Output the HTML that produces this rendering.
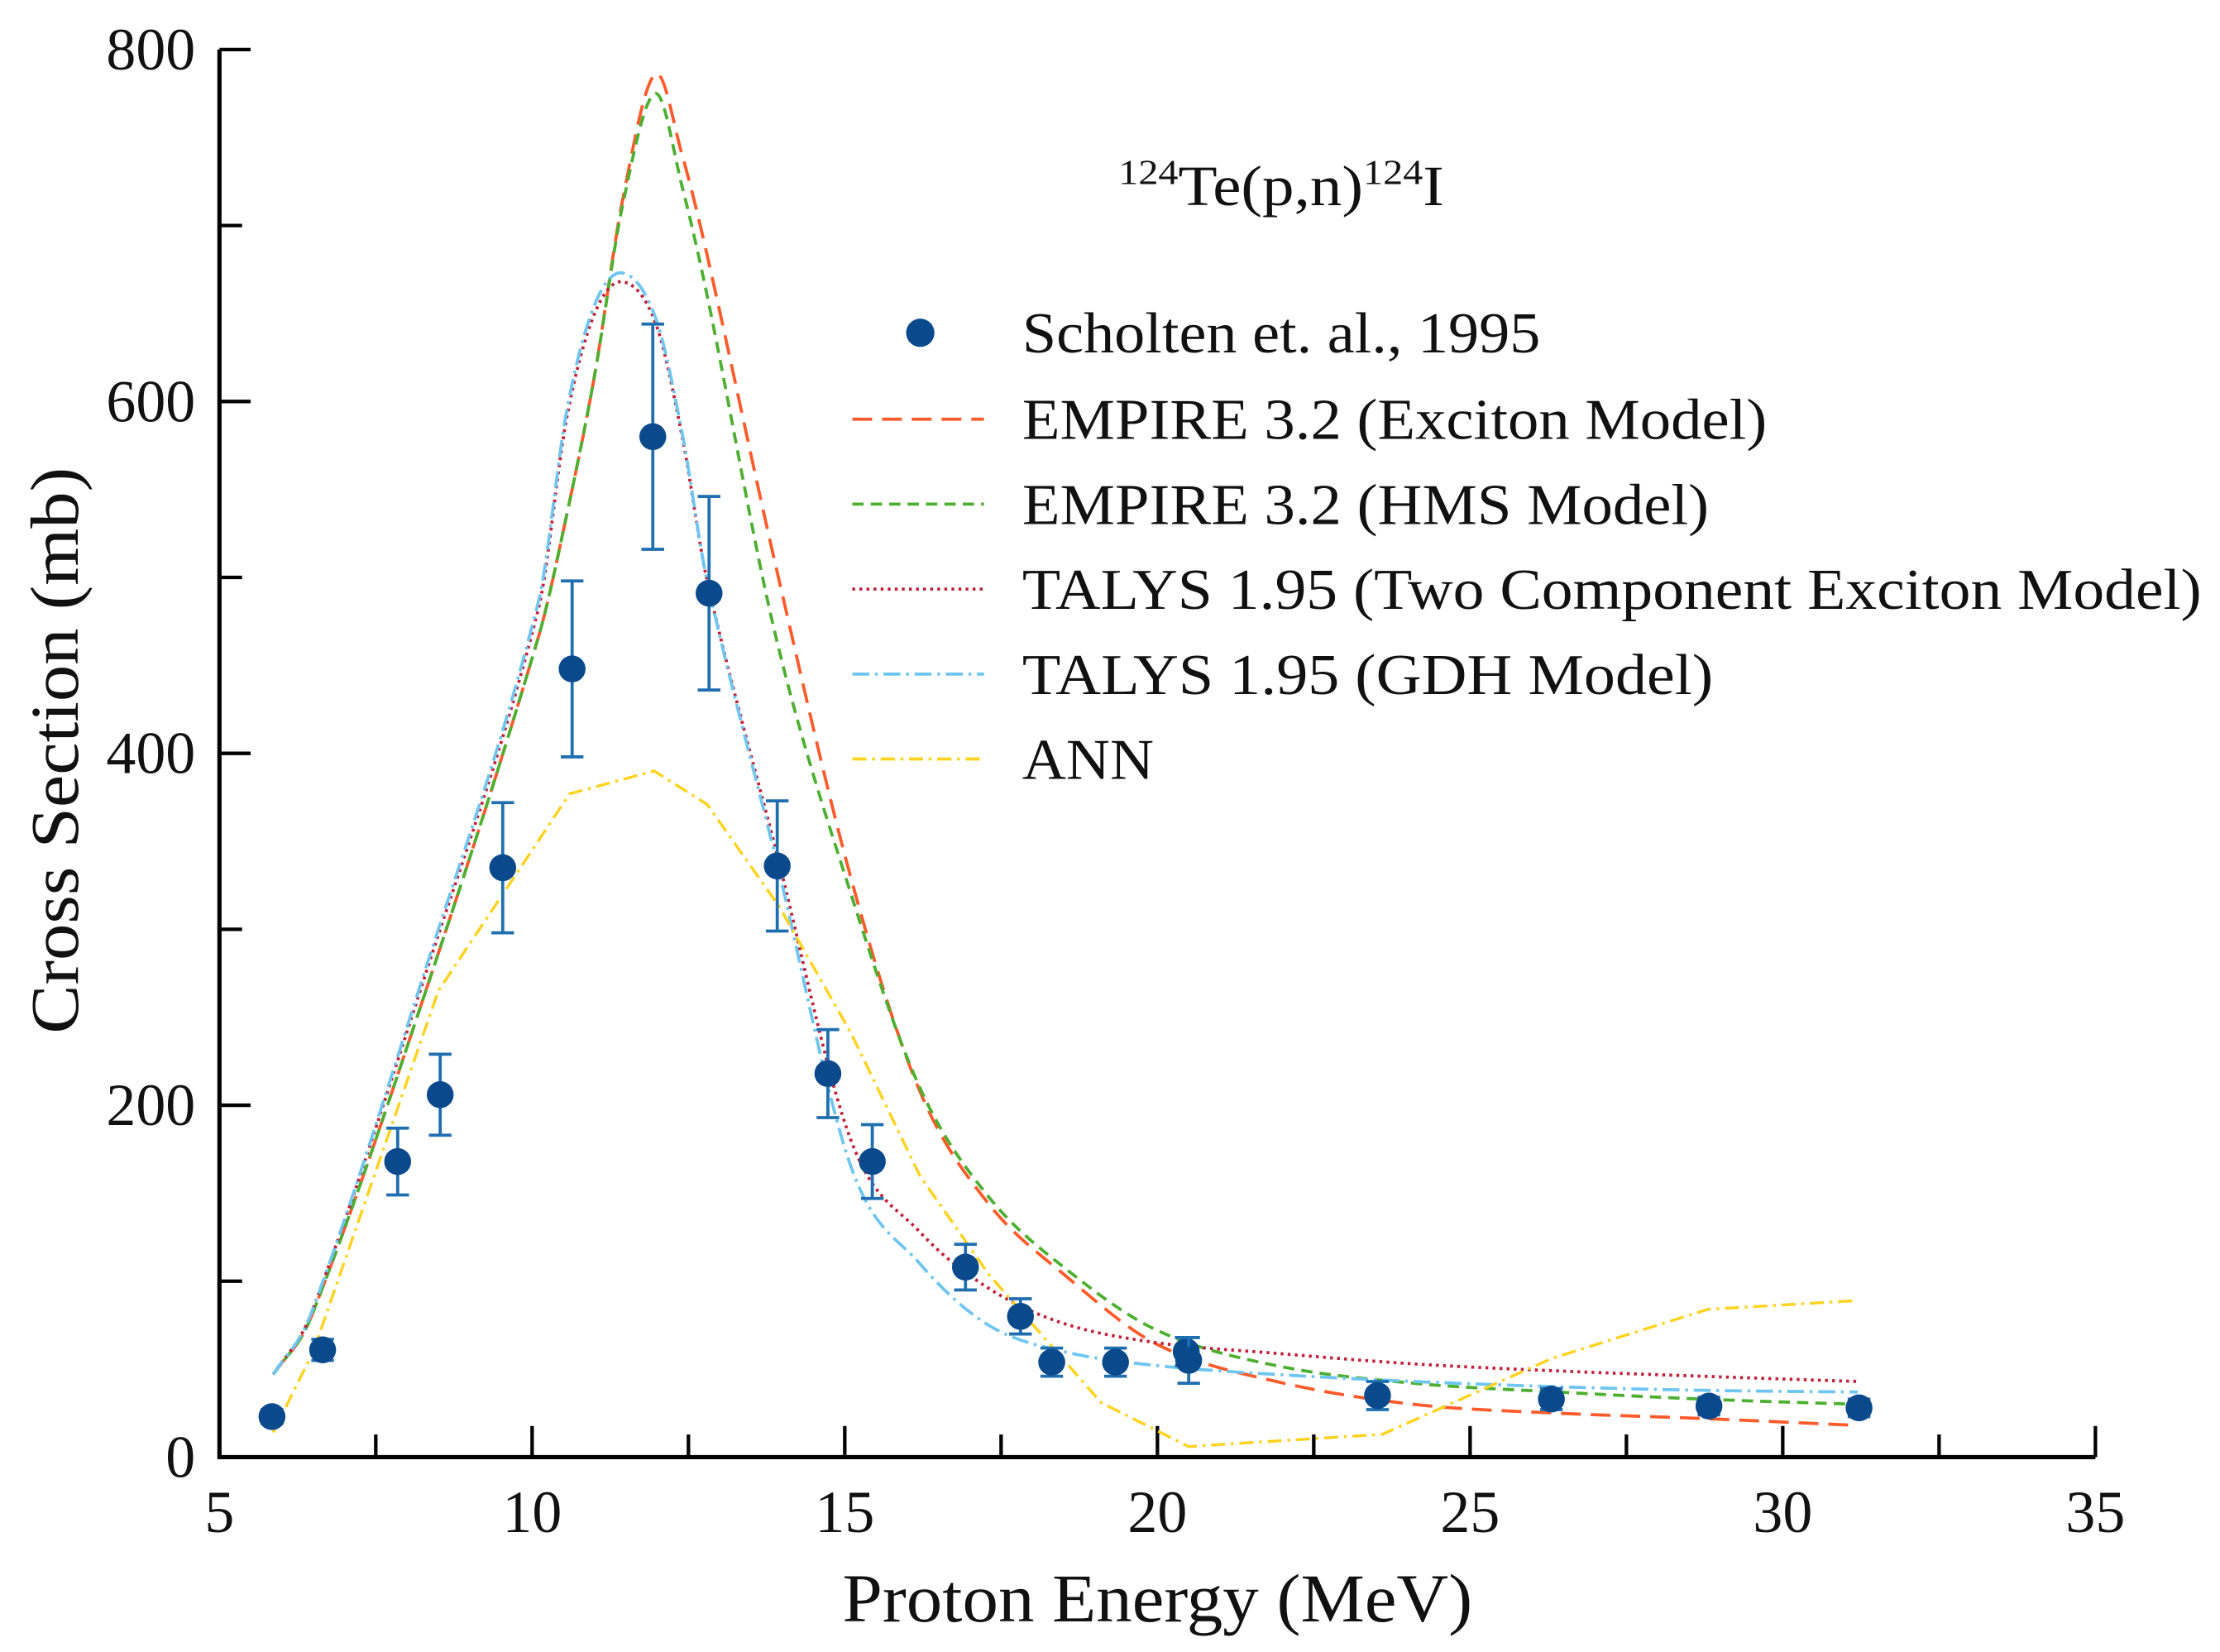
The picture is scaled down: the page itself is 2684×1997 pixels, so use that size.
<!DOCTYPE html>
<html><head><meta charset="utf-8"><style>
html,body{margin:0;padding:0;background:#fff;}
svg{display:block;}
text{font-family:"Liberation Serif",serif;fill:#111;}
</style></head><body>
<svg id="chart" width="2684" height="1997" viewBox="0 0 1568 1166.6" preserveAspectRatio="none" xmlns="http://www.w3.org/2000/svg">
<g id="axes"></g>
<g id="series"></g>
<g id="points"></g>
<text x="790" y="145" font-size="40" textLength="230" lengthAdjust="spacingAndGlyphs">
<tspan font-size="25" dy="-15">124</tspan><tspan dy="15">Te(p,n)</tspan><tspan font-size="25" dy="-15">124</tspan><tspan dy="15">I</tspan></text>
<text x="595" y="1145" font-size="48" textLength="445" lengthAdjust="spacingAndGlyphs">Proton Energy (MeV)</text>
<text transform="translate(55,730) rotate(-90)" font-size="48" textLength="400" lengthAdjust="spacingAndGlyphs">Cross Section (mb)</text>
<g id="legend"></g>
</svg>
<script>
const xTicks=[5,10,15,20,25,30,35];
const yTicks=[0,200,400,600,800];
const expE=[5.84,6.65,7.85,8.53,9.53,10.64,11.93,12.83,13.92,14.73,15.44,16.93,17.81,18.31,19.33,20.46,20.5,23.52,26.30,28.82,31.22];
const expXS=[23,61,168,206,335,448,580,491,336,218,168,108,80,54,54,60,55,35,33,29,28];
const expErr=[4,6,19,23,37,50,64,55,37,25,21,13,10,8,8,8,13,8,6,5,5];
const curveE=[5.86,6.47,8.3,10.1,10.55,11.0,11.45,11.97,12.4,12.8,13.9,15.1,16.2,17.3,18.5,20,21.9,24.1,26.4,28.7,31.2];
const empireExciton=[47,80,265,466,535,615,715,786,740,683,506,329,208,144,104,64,43,30,25,22,18];
const empireHMS=[47,80,265,466,535,615,712,775,722,660,466,320,210,148,108,72,52,42,37,33,30];
const talysTCE=[47,82,275,482,590,650,668,645,580,498,345,180,128,96,76,65,59,53,49,46,43];
const talysGDH=[47,82,278,486,594,655,673,648,582,498,340,165,110,75,60,52,47,43,40,38,37];
const annE=[5.86,6.5,8.5,10.6,11.95,12.8,13.95,15.1,16.2,17.3,19.1,20.5,23.6,26.3,28.8,31.2];
const annXS=[14,60,265,377,390,371,313,241,160,104,31,6,13,56,84,89];

const NS="http://www.w3.org/2000/svg";
const X0=155,X1=1480,Y0=1029,Y1=35;
function sx(v){return X0+(v-5)*(X1-X0)/30;}
function sy(v){return Y0-v*(Y0-Y1)/800;}
function mk(tag,attrs,parent){const e=document.createElementNS(NS,tag);for(const k in attrs)e.setAttribute(k,attrs[k]);parent.appendChild(e);return e;}
const axes=document.getElementById('axes');
let a=mk('path',{d:`M${X0},${Y1} L${X0},${Y0} L${X1},${Y0}`,fill:'none',stroke:'#000','stroke-width':3},axes);


for(let v=5;v<=35;v+=2.5){const maj=(v%5===0);
 const t=mk('line',{x1:sx(v),x2:sx(v),y1:Y0,y2:Y0-(maj?22:16),stroke:'#000','stroke-width':2.5},axes);
 
 }
xTicks.forEach(v=>{const t=mk('text',{x:sx(v),y:1082,'font-size':42,'text-anchor':'middle'},axes);t.textContent=v;
 
 });
for(let v=0;v<=800;v+=100){const maj=(v%200===0);
 const t=mk('line',{x1:X0,x2:X0+(maj?22:16),y1:sy(v),y2:sy(v),stroke:'#000','stroke-width':2.5},axes);
 
 }
yTicks.forEach(v=>{const t=mk('text',{x:138,y:sy(v)+14,'font-size':42,'text-anchor':'end'},axes);t.textContent=v;
 
 });

function smooth(xs,ys){const p=xs.map((x,i)=>[sx(x),sy(ys[i])]);let d=`M${p[0][0]},${p[0][1]}`;
 for(let i=0;i<p.length-1;i++){const p0=p[i-1]||p[i],p1=p[i],p2=p[i+1],p3=p[i+2]||p2;
  const k1=(p2[0]-p1[0])/(p2[0]-p0[0]||1)/3, k2=(p2[0]-p1[0])/(p3[0]-p1[0]||1)/3;
  d+=` C${p1[0]+(p2[0]-p0[0])*k1},${p1[1]+(p2[1]-p0[1])*k1} ${p2[0]-(p3[0]-p1[0])*k2},${p2[1]-(p3[1]-p1[1])*k2} ${p2[0]},${p2[1]}`;}
 return d;}
function straight(xs,ys){return xs.map((x,i)=>(i?'L':'M')+sx(x)+','+sy(ys[i])).join(' ');}
const series=document.getElementById('series');
const styles=[
 {name:'empire-exciton-line',d:smooth(curveE,empireExciton),c:'#ff5a2a',dash:'14,7',w:2.2,label:'EMPIRE 3.2 (Exciton Model)',len:526},
 {name:'empire-hms-line',d:smooth(curveE,empireHMS),c:'#4caf30',dash:'8,5',w:2.2,label:'EMPIRE 3.2 (HMS Model)',len:485},
 {name:'talys-tce-line',d:smooth(curveE,talysTCE),c:'#c0203a',dash:'2,3',w:2.2,label:'TALYS 1.95 (Two Component Exciton Model)',len:833},
 {name:'talys-gdh-line',d:smooth(curveE,talysGDH),c:'#6ec6f0',dash:'12,4,2,4',w:2.2,label:'TALYS 1.95 (GDH Model)',len:488},
 {name:'ann-line',d:straight(annE,annXS),c:'#ffd21e',dash:'10,4,2,4',w:2,label:'ANN',len:93}];
styles.forEach(s=>{const p=mk('path',{d:s.d,fill:'none',stroke:s.c,'stroke-width':s.w,'stroke-dasharray':s.dash},series);
 
 });
const pts=document.getElementById('points');
expE.forEach((e,i)=>{const x=sx(e),y=sy(expXS[i]),yt=sy(expXS[i]+expErr[i]),yb=sy(expXS[i]-expErr[i]);
 const eb=mk('path',{d:`M${x},${yt} L${x},${yb} M${x-8},${yt} L${x+8},${yt} M${x-8},${yb} L${x+8},${yb}`,stroke:'#1f6fb0','stroke-width':2.2,fill:'none'},pts);
 
 
 const c=mk('circle',{cx:x,cy:y,r:9.5,fill:'#0a4a8c'},pts);
 
 });
const lg=document.getElementById('legend');
let lc=mk('circle',{cx:650,cy:235,r:10,fill:'#0a4a8c'},lg);


let lt=mk('text',{x:722,y:249,'font-size':41,textLength:366,lengthAdjust:'spacingAndGlyphs'},lg);lt.textContent='Scholten et. al., 1995';


styles.forEach((s,i)=>{const y=296+i*60;
 const l=mk('line',{x1:602,x2:695,y1:y,y2:y,stroke:s.c,'stroke-width':2.2,'stroke-dasharray':s.dash},lg);
 
 
 const t=mk('text',{x:722,y:y+14,'font-size':41,textLength:s.len,lengthAdjust:'spacingAndGlyphs'},lg);t.textContent=s.label;
 
 });
</script>
</body></html>
